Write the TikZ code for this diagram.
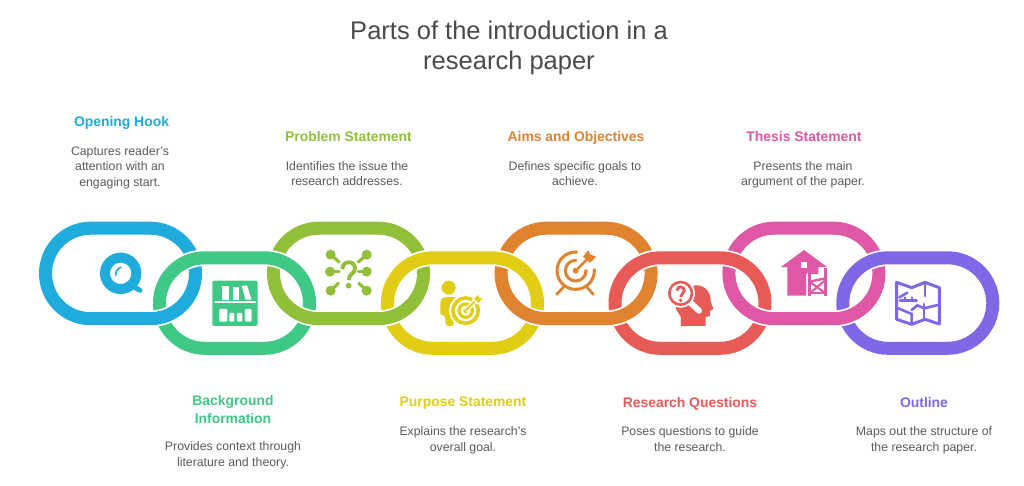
\documentclass[tikz,border=0pt]{standalone}
\usepackage{fontspec}
\setmainfont{Liberation Sans}
\definecolor{cblue}{HTML}{1FACDD}
\definecolor{cgreen}{HTML}{3FC886}
\definecolor{colive}{HTML}{92BF38}
\definecolor{cyel}{HTML}{E0CD14}
\definecolor{corange}{HTML}{E0832F}
\definecolor{cred}{HTML}{E85A55}
\definecolor{cpink}{HTML}{DE58A6}
\definecolor{cpurple}{HTML}{8067E8}
\definecolor{ctitle}{HTML}{4A4A4A}
\definecolor{cbody}{HTML}{5A5A5A}
\tikzset{
  ringline/.style={line width=13pt},
  halo/.style={line width=16.4pt,white},
  even/.style={execute at begin node=\vphantom{Ap},execute at end node=\vphantom{Ap}},
  titletext/.style={font=\fontsize{25.5}{30.5}\selectfont,text=ctitle,align=center,inner sep=0pt,even},
  headtext/.style={font=\fontsize{13.9}{18}\bfseries\selectfont,align=center,inner sep=0pt,even},
  bodytext/.style={font=\fontsize{12.3}{15.5}\selectfont,text=cbody,align=center,inner sep=0pt,even},
  icon/.style={shift={#1},x=0.3333pt,y=-0.3333pt}
}
% stadium centre line: #1 = outer left x, #2 = centre-line top y
\newcommand{\stadiumpath}[2]{(#1+51.75,#2) -- (#1+111.25,#2)
  .. controls (#1+136.25,#2) and (#1+156.5,#2+20.25) .. (#1+156.5,#2+45.25)
  .. controls (#1+156.5,#2+70.25) and (#1+136.25,#2+90.5) .. (#1+111.25,#2+90.5)
  -- (#1+51.75,#2+90.5)
  .. controls (#1+26.75,#2+90.5) and (#1+6.5,#2+70.25) .. (#1+6.5,#2+45.25)
  .. controls (#1+6.5,#2+20.25) and (#1+26.75,#2) .. (#1+51.75,#2) -- cycle}
\newcommand{\toplink}[2]{\draw[ringline,#2] \stadiumpath{#1}{228.2};}
\newcommand{\botlink}[2]{%
  \draw[halo] \stadiumpath{#1}{257.8};
  \draw[ringline,#2] \stadiumpath{#1}{257.8};}
\newcommand{\toplinkover}[2]{%
  \begin{scope}
    \clip (#1-8,292) rectangle (#1+172,335);
    \draw[halo] \stadiumpath{#1}{228.2};
    \draw[ringline,#2] \stadiumpath{#1}{228.2};
  \end{scope}}
\begin{document}
\begin{tikzpicture}[x=1pt,y=-1pt]
\useasboundingbox (0,0) rectangle (1024,485);
\fill[white] (0,0) rectangle (1024,485);
% links
\toplink{39}{cblue}
\toplink{267}{colive}
\toplink{494.6}{corange}
\toplink{722.4}{cpink}
\botlink{153}{cgreen}
\botlink{381}{cyel}
\botlink{608.5}{cred}
\botlink{836.3}{cpurple}
\toplinkover{39}{cblue}
\toplinkover{267}{colive}
\toplinkover{494.6}{corange}
\toplinkover{722.4}{cpink}
% title
\node[titletext] (title) at (509,48) {Parts of the introduction in a\\research paper};
% top headings and texts
\node[headtext,text=cblue] (h1) at (121.5,123) {Opening Hook};
\node[bodytext] (b1) at (120,167.5) {Captures reader's\\attention with an\\engaging start.};
\node[headtext,text=colive] (h3) at (348.5,138) {Problem Statement};
\node[bodytext] (b3) at (347,175) {Identifies the issue the\\research addresses.};
\node[headtext,text=corange] (h5) at (576,138) {Aims and Objectives};
\node[bodytext] (b5) at (575,175) {Defines specific goals to\\achieve.};
\node[headtext,text=cpink] (h7) at (804,138) {Thesis Statement};
\node[bodytext] (b7) at (803,175) {Presents the main\\argument of the paper.};
% bottom headings and texts
\node[headtext,text=cgreen] (h2) at (233,411) {Background\\Information};
\node[bodytext] (b2) at (233,455.5) {Provides context through\\literature and theory.};
\node[headtext,text=cyel] (h4) at (463,403.5) {Purpose Statement};
\node[bodytext] (b4) at (463,440.5) {Explains the research's\\overall goal.};
\node[headtext,text=cred] (h6) at (690,403.5) {Research Questions};
\node[bodytext] (b6) at (690,440.5) {Poses questions to guide\\the research.};
\node[headtext,text=cpurple] (h8) at (924,403.5) {Outline};
\node[bodytext] (b8) at (924,440.5) {Maps out the structure of\\the research paper.};
% icon 1: Q bubble
\begin{scope}[icon={(90,240)}]
  \draw[cblue,line width=10pt] (92,100) circle[radius=47];
  \draw[cblue,line width=5pt,line cap=round] (130,140) -- (150,151);
  \draw[cblue,line width=1.6pt,line cap=round] (77,106) .. controls (76,95) and (82,85) .. (93,82);
\end{scope}
% icon 2: bookshelf
\begin{scope}[icon={(90,240)}]
  \fill[cgreen,rounded corners=2pt] (367,122) rectangle (503,258);
  \draw[white,line width=2.4pt,line cap=round] (376,186) -- (495,186);
  \fill[white] (395,137) rectangle (416,179);
  \fill[white] (430,142) rectangle (447,179);
  \fill[white] (455,138) -- (471,136) -- (485,179) -- (467,179) -- cycle;
  \fill[white,rounded corners=1pt] (388,207) rectangle (412,245);
  \fill[white,rounded corners=1pt] (418,219) rectangle (433,245);
  \fill[white,rounded corners=1pt] (441,219) rectangle (457,245);
  \fill[white,rounded corners=1pt] (465,207) rectangle (485,245);
\end{scope}
% icon 3: network with question mark
\begin{scope}[icon={(315,240)}]
  \foreach \px/\py/\qx/\qy in {47/44/72/66,155/44/130/66,45/95/72/95,155/95/130/95,47/152/70/130,155/152/132/130}{
    \fill[colive] (\px,\py) circle[radius=15];
    \draw[colive,line width=3.2pt,line cap=round] (\px,\py) -- (\qx,\qy);
  }
  \draw[colive,line width=3.9pt] (82,88) .. controls (82,60) and (120,60) .. (120,86)
     .. controls (120,102) and (101,100) .. (101,120);
  \fill[colive] (101,137) circle[radius=8.5];
\end{scope}
% icon 4: person and target
\begin{scope}[icon={(315,240)}]
  \fill[cyel] (401,143) circle[radius=21];
  \fill[cyel,rounded corners=2pt] (376,225) -- (376,182) -- (386,171) -- (425,171) -- (406,190) -- (403,215) -- (416,236) -- (416,258) -- (392,258) -- (390,225) -- cycle;
  \draw[white,line width=1.5pt] (452,212) circle[radius=47];
  \draw[cyel,line width=3.6pt] (452,212) circle[radius=38];
  \draw[cyel,line width=3.2pt] (452,212) circle[radius=20];
  \fill[cyel] (452,212) circle[radius=7];
  \draw[white,line width=4.6pt] (452,212) -- (488,176);
  \draw[cyel,line width=2pt] (452,212) -- (488,176);
  \draw[white,line width=1.2pt,fill=cyel] (474,177) -- (490,160) -- (494,172) -- (507,175) -- (490,192) -- cycle;
\end{scope}
% icon 5: target on stand
\begin{scope}[icon={(545,240)}]
  \draw[corange,line width=2.8pt,line cap=round] (35,163) -- (56,141);
  \draw[corange,line width=2.8pt,line cap=round] (145,163) -- (125,141);
  \draw[corange,line width=3pt] (92,92) circle[radius=56];
  \draw[corange,line width=3pt] (92,92) circle[radius=31];
  \fill[corange] (92,92) circle[radius=9];
  \fill[white] (92,92) -- (100,20) -- (165,84) -- cycle;
  \draw[corange,line width=2.4pt,line cap=round] (92,92) -- (132,52);
  \fill[corange] (114,50) -- (130,31) -- (136,44) -- (154,50) -- (134,68) -- cycle;
\end{scope}
% icon 6: head with magnifier
\begin{scope}[icon={(545,240)}]
  \fill[cred] (408,258) -- (408,232) -- (392,205) -- (420,150) -- (450,136)
    .. controls (482,134) and (499,160) .. (497,185) -- (505,207) -- (495,212)
    -- (495,228) -- (482,231) -- (482,258) -- cycle;
  \fill[white] (407,160) circle[radius=43];
  \draw[white,line width=6pt,line cap=round] (436,188) -- (462,212);
  \draw[cred,line width=2.6pt] (407,160) circle[radius=34];
  \draw[cred,line width=2.8pt] (396,152) .. controls (396,137) and (418,137) .. (418,152)
     .. controls (418,160) and (407,160) .. (407,171);
  \fill[cred] (407,181) circle[radius=5.5];
\end{scope}
% icon 7: barn
\begin{scope}[icon={(770,240)}]
  \fill[cpink,line join=round] (102,30) -- (171,81) -- (145,81) -- (145,102) -- (108,102) -- (108,167) -- (52,167) -- (52,81) -- (33,81) -- cycle;
  \fill[white] (92,67) rectangle (110,85);
  \draw[white,line width=3pt] (115,98) -- (115,170);
  \draw[cpink,line width=2.4pt] (119,100) -- (119,167);
  \draw[cpink,line width=2.4pt] (166,84) -- (166,167);
  \draw[cpink,line width=2.4pt] (119,125) -- (166,115);
  \draw[cpink,line width=2pt] (119,160) -- (166,160);
  \draw[cpink,line width=2pt] (119,125) -- (166,160);
  \draw[cpink,line width=2pt] (119,160) -- (166,120);
\end{scope}
% icon 8: map
\begin{scope}[icon={(770,240)}]
  \draw[cpurple,line width=3pt,line join=round] (380,127) -- (425,143) -- (465,127) -- (508,143) -- (508,252) -- (465,238) -- (425,253) -- (380,238) -- cycle;
  \draw[cpurple,line width=2.6pt,line cap=round] (388,172) -- (412,158);
  \draw[cpurple,line width=2.6pt,line cap=round] (385,205) -- (425,222) -- (425,250);
  \draw[cpurple,line width=2.6pt,line cap=round] (390,182) -- (440,182);
  \draw[cpurple,line width=2pt,line cap=round] (405,172) -- (405,182);
  \draw[cpurple,line width=2pt,line cap=round] (425,172) -- (425,182);
  \draw[cpurple,line width=2.6pt,line cap=round] (425,210) -- (442,196) -- (460,204);
  \draw[cpurple,line width=2.6pt,line cap=round] (465,130) -- (465,168);
  \draw[cpurple,line width=2.6pt,line cap=round] (462,192) -- (462,236);
  \draw[cpurple,line width=2.6pt,line cap=round] (462,205) -- (503,195);
\end{scope}
\end{tikzpicture}
\end{document}
